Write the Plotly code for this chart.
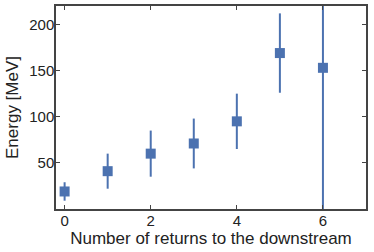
import plotly.graph_objects as go

returns = [0, 1, 2, 3, 4, 5, 6]
energy = [19, 41, 60, 71, 95, 169, 153]
energy_err = [10, 19, 25, 27, 30, 43, 160]

fig = go.Figure()
fig.add_trace(go.Scatter(
    x=returns, y=energy, mode="markers",
    marker=dict(symbol="square", size=10, color="#4C72B0"),
    error_y=dict(type="data", array=energy_err, visible=True, width=0,
                 thickness=2, color="#4C72B0"),
    showlegend=False,
))

axis_common = dict(
    showgrid=False, zeroline=False, showline=True, linecolor="#444444",
    linewidth=1.5, mirror="ticks", ticks="inside", ticklen=4, tickwidth=1,
    tickcolor="#444444", tickfont=dict(size=15, color="#222222"),
    automargin=False, ticklabelstandoff=-3,
)
fig.update_xaxes(range=[-0.2, 7], tickvals=[0, 2, 4, 6],
                 title=dict(text="Number of returns to the downstream",
                            font=dict(size=17, color="#222222"), standoff=1),
                 **axis_common)
fig.update_yaxes(range=[0, 220], tickvals=[50, 100, 150, 200],
                 title=dict(text="Energy [MeV]",
                            font=dict(size=17, color="#222222"), standoff=6),
                 **axis_common)
fig.update_layout(
    width=374, height=252,
    margin=dict(l=56, r=8, t=6, b=43),
    plot_bgcolor="white", paper_bgcolor="white",
    font=dict(family="Liberation Sans, Arial, sans-serif"),
)
fig.write_html("out.html", config={"displayModeBar": False},
               post_script="document.body.style.margin='0';document.body.style.overflow='hidden';")
